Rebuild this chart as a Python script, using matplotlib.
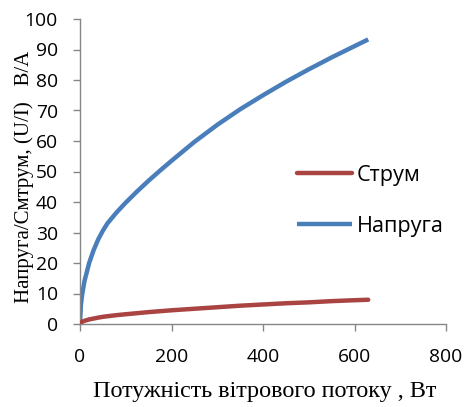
import matplotlib
matplotlib.use("agg")
import matplotlib.pyplot as plt

# values
power = [0, 2, 5, 10, 20, 30, 40, 50, 60, 80, 100, 125, 150, 175, 200, 250,
         300, 350, 400, 450, 500, 550, 600, 630]
voltage = [0, 6.3, 10.0, 14.2, 20.0, 24.3, 27.8, 30.6, 33.0, 36.6, 39.8, 43.5,
           47.0, 50.3, 53.5, 59.7, 65.3, 70.4, 75.0, 79.4, 83.5, 87.4, 91.1,
           93.3]
current = [0, 0.5, 0.75, 1.05, 1.5, 1.8, 2.1, 2.35, 2.55, 2.9, 3.2, 3.55, 3.9,
           4.2, 4.5, 5.0, 5.5, 6.0, 6.4, 6.8, 7.1, 7.5, 7.8, 7.95]

series_names = ["Струм", "Напруга"]
xticks = [0, 200, 400, 600, 800]
yticks = list(range(0, 101, 10))
xlabel = "Потужність вітрового потоку , Вт"
ylabel = "Напруга/Смтрум, (U/I)   В/А"

W, H, DPI = 469, 407, 100
fig = plt.figure(figsize=(W / DPI, H / DPI), dpi=DPI)
renderer = fig.canvas.get_renderer()
ax = fig.add_axes([80 / W, 1 - 324 / H, 366 / W, 305 / H])


def px2pt(v):
    return v * 72 / DPI


def size_for(text, family, target, vertical=False):
    # font size that gives a text the wanted extent in pixels
    t = fig.text(0, 0, text, family=family, fontsize=20,
                 rotation=90 if vertical else 0)
    bb = t.get_window_extent(renderer)
    t.remove()
    return 20 * target / (bb.height if vertical else bb.width)


ax.plot(power, voltage, color="#4A7EBB", lw=3.2, solid_capstyle="butt",
        solid_joinstyle="round", zorder=2)
ax.plot(power, current, color="#A94442", lw=3.2, solid_capstyle="round",
        solid_joinstyle="round", zorder=3)

ax.set_xlim(0, 800)
ax.set_ylim(0, 100)
ax.set_xticks(xticks)
ax.set_yticks(yticks)

for side in ["top", "right"]:
    ax.spines[side].set_visible(False)
for side in ["left", "bottom"]:
    ax.spines[side].set_color("#868686")
    ax.spines[side].set_linewidth(1.0)

tick_fs = size_for("200", "Open Sans", 33)
ax.tick_params(direction="out", length=px2pt(7), width=1.0, color="#868686",
               labelsize=tick_fs)
ax.tick_params(axis="y", pad=px2pt(15))
ax.tick_params(axis="x", pad=px2pt(362 - 324 - 7))
for lab in ax.get_xticklabels():
    lab.set_fontfamily("Open Sans")
    lab.set_verticalalignment("baseline")
for lab in ax.get_yticklabels():
    lab.set_fontfamily("Open Sans")

fig.text(264.5 / W, 1 - 397 / H, xlabel, family="Liberation Serif",
         fontsize=size_for(xlabel, "Liberation Serif", 345),
         ha="center", va="baseline")
fig.text(24.5 / W, 1 - 176.5 / H, ylabel, family="Liberation Serif",
         fontsize=size_for(ylabel, "Liberation Serif", 253, vertical=True),
         rotation=90, ha="center", va="center")

# legend
leg_fs = size_for("Напруга", "Open Sans", 87)
leg_px = leg_fs * DPI / 72
probe = fig.text(0, 0, "Напруга", family="Open Sans", fontsize=leg_fs)
row_h = probe.get_window_extent(renderer).height
probe.remove()

h_red, = ax.plot([], [], color="#A94442", lw=3.2, solid_capstyle="round")
h_blue, = ax.plot([], [], color="#4A7EBB", lw=3.2, solid_capstyle="butt")
ax.legend([h_red, h_blue], series_names, loc="center left",
          bbox_to_anchor=((297 - 80) / 366, (324 - 200.75) / 305),
          frameon=False, borderpad=0, borderaxespad=0,
          handlelength=55 / leg_px, handletextpad=5 / leg_px,
          labelspacing=(51.5 - row_h) / leg_px,
          prop={"family": "Open Sans", "size": leg_fs})

fig.savefig("out.png", dpi=DPI)
